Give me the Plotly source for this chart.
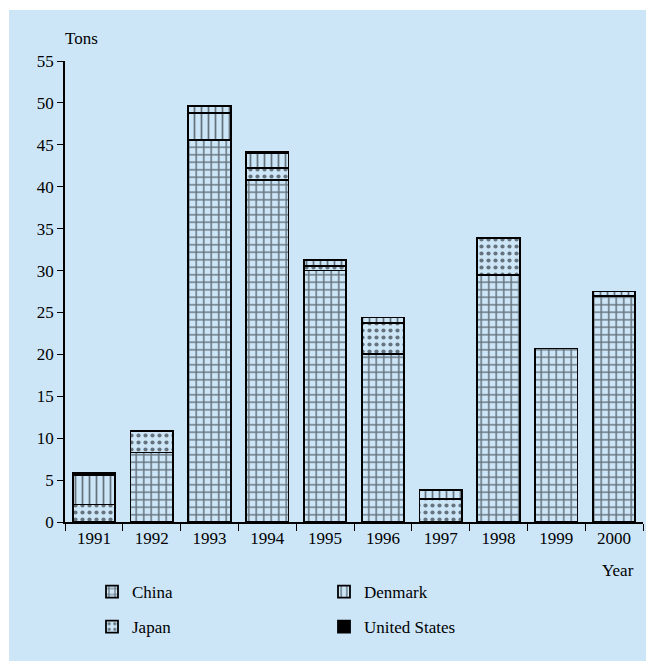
import plotly.graph_objects as go

years = ["1991", "1992", "1993", "1994", "1995", "1996", "1997", "1998", "1999", "2000"]
china = [0, 8.3, 45.6, 40.8, 30.0, 20.0, 0, 29.5, 20.7, 27.0]
japan = [2.1, 2.6, 0, 1.4, 0.5, 3.7, 2.7, 4.4, 0, 0]
denmark = [3.5, 0, 3.2, 1.8, 0.8, 0.7, 1.1, 0, 0, 0.5]
denmark_extra = [0, 0, 0.8, 0, 0, 0, 0, 0, 0, 0]
united_states = [0.2, 0, 0, 0.2, 0, 0, 0, 0, 0, 0]

BG = "#cce6f8"
FONT = "Liberation Serif, Times New Roman, Times, serif"

OFF = 8  # page body margin
W, H = 654 - OFF, 661 - OFF
ML, MR, MT, MB = 65 - OFF, 11, 61 - OFF, 139
PW, PH = W - ML - MR, H - MT - MB

def px_x(p):
    return (p - OFF - ML) / PW

def px_y(p):
    return (H - MB - (p - OFF)) / PH

line = dict(color="black", width=1.8)

fig = go.Figure()
fig.add_trace(go.Bar(x=years, y=china, name="China", legend="legend", legendrank=1,
                     marker=dict(color=BG, line=line,
                                 pattern=dict(shape="+", fgcolor="black", bgcolor=BG,
                                              size=7.5, solidity=0.36))))
fig.add_trace(go.Bar(x=years, y=japan, name="Japan", legend="legend2", legendrank=1,
                     marker=dict(color=BG, line=line,
                                 pattern=dict(shape=".", fgcolor="black", bgcolor=BG,
                                              size=7, solidity=0.28))))
fig.add_trace(go.Bar(x=years, y=denmark, name="Denmark", legend="legend", legendrank=2,
                     marker=dict(color=BG, line=line,
                                 pattern=dict(shape="|", fgcolor="black", bgcolor=BG,
                                              size=7, solidity=0.25))))
fig.add_trace(go.Bar(x=years, y=denmark_extra, name="Denmark", showlegend=False,
                     marker=dict(color=BG, line=line,
                                 pattern=dict(shape="|", fgcolor="black", bgcolor=BG,
                                              size=7, solidity=0.25))))
fig.add_trace(go.Bar(x=years, y=united_states, name="United States", legend="legend2", legendrank=2,
                     marker=dict(color="black", line=line)))

legend_common = dict(orientation="h", bgcolor="rgba(0,0,0,0)", entrywidth=187,
                     traceorder="normal",
                     font=dict(family=FONT, size=17, color="black"),
                     xanchor="left", yanchor="middle")

fig.update_layout(
    width=W, height=H,
    margin=dict(l=ML, r=MR, t=MT, b=MB),
    paper_bgcolor="white", plot_bgcolor="rgba(0,0,0,0)",
    barmode="stack", bargap=0.265,
    font=dict(family=FONT, size=17, color="black"),
    legend=dict(x=px_x(92), y=px_y(592), **legend_common),
    legend2=dict(x=px_x(92), y=px_y(627), **legend_common),
    xaxis=dict(type="category", tickson="boundaries", ticks="outside", ticklen=7,
               tickwidth=1.3, tickcolor="black", showline=True, linecolor="black",
               linewidth=1.5, showgrid=False, zeroline=False,
               tickfont=dict(family=FONT, size=17, color="black")),
    yaxis=dict(range=[0, 55], dtick=5, ticks="outside", ticklen=6, tickwidth=1.3,
               tickcolor="black", showline=True, linecolor="black", linewidth=1.5,
               showgrid=False, zeroline=False,
               tickfont=dict(family=FONT, size=17, color="black")),
    shapes=[dict(type="rect", xref="paper", yref="paper", layer="below",
                 x0=px_x(9), x1=px_x(720), y0=px_y(10), y1=px_y(720),
                 fillcolor=BG, line=dict(width=0))],
    annotations=[
        dict(text="Tons", xref="paper", yref="paper", x=px_x(63), y=px_y(38),
             xanchor="left", yanchor="middle", showarrow=False,
             font=dict(family=FONT, size=17, color="black")),
        dict(text="Year", xref="paper", yref="paper", x=px_x(636), y=px_y(570),
             xanchor="right", yanchor="middle", showarrow=False,
             font=dict(family=FONT, size=17, color="black")),
    ],
)

fig.write_html("out.html")
